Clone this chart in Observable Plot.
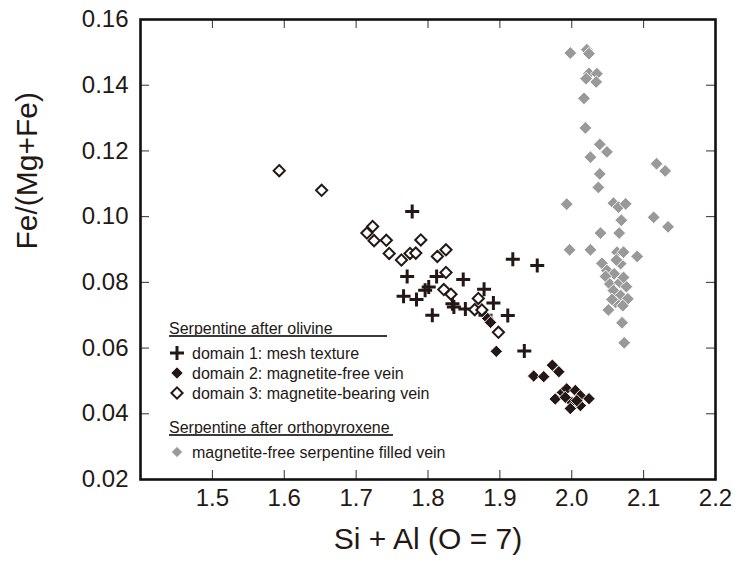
<!DOCTYPE html>
<html>
<head>
<meta charset="utf-8">
<script src="https://cdn.jsdelivr.net/npm/d3@7"></script>
<script src="https://cdn.jsdelivr.net/npm/@observablehq/plot@0.6"></script>
<style>
  html, body { margin: 0; padding: 0; background: #fff; }
  #chart { width: 740px; height: 573px; }
</style>
</head>
<body>
<div id="chart"></div>
<script>
// ---------- data ----------
// Serpentine after olivine, domain 1: mesh texture (plus)
const meshX = [1.778, 1.771, 1.766, 1.784, 1.806, 1.796, 1.801, 1.812, 1.849, 1.878,
               1.891, 1.911, 1.918, 1.952, 1.934, 1.834, 1.836, 1.852, 1.880];
const meshY = [0.1016, 0.0818, 0.0758, 0.0748, 0.0700, 0.0776, 0.0786, 0.0818, 0.0809, 0.0779,
               0.0737, 0.0699, 0.0870, 0.0851, 0.0591, 0.0735, 0.0725, 0.0719, 0.0700];

// domain 2: magnetite-free vein (filled diamond)
const freeVeinX = [1.883, 1.887, 1.895, 1.947, 1.961, 1.973, 1.982, 1.977, 1.987, 1.993,
                   2.005, 2.012, 2.000, 1.998, 2.012, 2.024, 1.991, 2.007];
const freeVeinY = [0.0690, 0.0678, 0.0590, 0.0515, 0.0513, 0.0548, 0.0528, 0.0445, 0.0465, 0.0476,
                   0.0471, 0.0455, 0.0435, 0.0416, 0.0425, 0.0446, 0.0450, 0.0440];

// domain 3: magnetite-bearing vein (open diamond)
const bearVeinX = [1.593, 1.652, 1.723, 1.715, 1.725, 1.742, 1.746, 1.763, 1.775, 1.783,
                   1.790, 1.813, 1.825, 1.825, 1.822, 1.832, 1.870, 1.865, 1.875, 1.898];
const bearVeinY = [0.1140, 0.1080, 0.0970, 0.0950, 0.0927, 0.0928, 0.0888, 0.0868, 0.0888, 0.0889,
                   0.0929, 0.0879, 0.0899, 0.0830, 0.0778, 0.0764, 0.0751, 0.0717, 0.0716, 0.0648];

// Serpentine after orthopyroxene (grey diamond)
const opxX = [1.998, 2.021, 2.024, 2.024, 2.035, 2.020, 2.034, 2.017, 2.019, 2.039,
              2.049, 2.026, 2.039, 2.118, 2.130, 2.037, 1.993, 2.058, 2.065, 2.075,
              2.069, 2.114, 2.134, 2.040, 2.066, 1.997, 2.026, 2.063, 2.072, 2.068,
              2.091, 2.042, 2.062, 2.049, 2.059, 2.047, 2.053, 2.067, 2.076, 2.058,
              2.068, 2.078, 2.061, 2.071, 2.051, 2.070, 2.073, 2.056, 2.072];
const opxY = [0.1498, 0.1508, 0.1496, 0.1436, 0.1435, 0.1420, 0.1410, 0.1360, 0.1270, 0.1220,
              0.1197, 0.1181, 0.1130, 0.1161, 0.1139, 0.1089, 0.1038, 0.1041, 0.1029, 0.1039,
              0.0989, 0.0998, 0.0969, 0.0950, 0.0950, 0.0899, 0.0899, 0.0892, 0.0892, 0.0857,
              0.0879, 0.0858, 0.0868, 0.0836, 0.0826, 0.0818, 0.0795, 0.0800, 0.0787, 0.0775,
              0.0760, 0.0750, 0.0739, 0.0729, 0.0716, 0.0677, 0.0616, 0.0748, 0.0815];

// axes
const xDomain = [1.4, 2.2];
const yDomain = [0.02, 0.16];
const xTicks = [1.5, 1.6, 1.7, 1.8, 1.9, 2.0, 2.1, 2.2];
const yTicks = [0.02, 0.04, 0.06, 0.08, 0.10, 0.12, 0.14, 0.16];
const xLabel = "Si + Al (O = 7)";
const yLabel = "Fe/(Mg+Fe)";

// legend text
const legendHead1 = "Serpentine after olivine";
const legendItems1 = ["domain 1: mesh texture", "domain 2: magnetite-free vein", "domain 3: magnetite-bearing vein"];
const legendHead2 = "Serpentine after orthopyroxene";
const legendItems2 = ["magnetite-free serpentine filled vein"];

// ---------- styling ----------
const W = 740, H = 573;
const mL = 140, mR = 25, mT = 19, mB = 94;
const plotW = W - mL - mR, plotH = H - mT - mB;
const dark = "#231815";
const grey = "#999999";
const font = "'Liberation Sans', Arial, Helvetica, sans-serif";

// symbols whose size argument maps to half-extent r (size = PI r^2)
const plusSym = {draw(ctx, size) {
  const r = Math.sqrt(size / Math.PI);
  ctx.moveTo(-r, 0); ctx.lineTo(r, 0); ctx.moveTo(0, -r); ctx.lineTo(0, r);
}};
const diamondSym = {draw(ctx, size) {
  const r = Math.sqrt(size / Math.PI);
  ctx.moveTo(0, -r); ctx.lineTo(r, 0); ctx.lineTo(0, r); ctx.lineTo(-r, 0); ctx.closePath();
}};

const styles = {
  mesh:  {symbol: plusSym, r: 7, fill: "none", stroke: dark, strokeWidth: 3},
  free:  {symbol: diamondSym, r: 6.2, fill: dark, stroke: "#fff", strokeWidth: 0.9},
  bear:  {symbol: diamondSym, r: 5.6, fill: "#fff", stroke: dark, strokeWidth: 2},
  opx:   {symbol: diamondSym, r: 6.4, fill: grey, stroke: "#fff", strokeWidth: 0.9}
};

const rows = (xs, ys) => xs.map((x, i) => ({x, y: ys[i]}));

const innerX = xTicks.filter(v => v > xDomain[0] && v < xDomain[1]);
const innerY = yTicks.filter(v => v > yDomain[0] && v < yDomain[1]);

// legend render function (pixel layout inside the frame)
function legendMark(index, scales, values, dims) {
  const g = d3.create("svg:g")
    .attr("font-family", font)
    .attr("font-size", 16)
    .attr("text-anchor", "start")
    .attr("fill", dark);
  const x0 = dims.marginLeft + 29;     // left of headings
  const sx = dims.marginLeft + 37;     // symbol centre
  const tx = dims.marginLeft + 52;     // item text
  const top = dims.marginTop;
  const drawSym = (st, cx, cy) => {
    g.append("path")
      .attr("d", d3.symbol(st.symbol, Math.PI * st.r * st.r)())
      .attr("transform", `translate(${cx},${cy})`)
      .attr("fill", st.fill).attr("stroke", st.stroke).attr("stroke-width", st.strokeWidth);
  };
  const head = (label, baseline, lineEnd) => {
    g.append("text").attr("x", x0).attr("y", baseline).attr("text-anchor", "start").text(label);
    g.append("line").attr("x1", x0).attr("x2", lineEnd).attr("y1", baseline + 2.5).attr("y2", baseline + 2.5)
      .attr("stroke", "#3a3a3a").attr("stroke-width", 1.8);
  };
  const item = (st, label, cy) => {
    drawSym(st, sx, cy);
    g.append("text").attr("x", tx).attr("y", cy + 5.6).attr("text-anchor", "start").text(label);
  };
  head(legendHead1, top + 314.5, dims.marginLeft + 247);
  [styles.mesh, styles.free, styles.bear].forEach((st, i) => item(st, legendItems1[i], top + 334 + i * 20));
  head(legendHead2, top + 413.5, dims.marginLeft + 253);
  item({...styles.opx, r: 5.6}, legendItems2[0], top + 433);
  return g.node();
}

const chart = Plot.plot({
  width: W, height: H,
  marginLeft: mL, marginRight: mR, marginTop: mT, marginBottom: mB,
  style: {fontFamily: font, background: "#fff", color: dark, overflow: "visible"},
  x: {domain: xDomain},
  y: {domain: yDomain},
  marks: [
    Plot.dot(rows(opxX, opxY), {x: "x", y: "y", ...styles.opx}),
    Plot.dot(rows(meshX, meshY), {x: "x", y: "y", ...styles.mesh}),
    Plot.dot(rows(freeVeinX, freeVeinY), {x: "x", y: "y", ...styles.free}),
    Plot.dot(rows(bearVeinX, bearVeinY), {x: "x", y: "y", ...styles.bear}),
    // inward ticks on all four sides
    Plot.tickX(innerX, {x: d => d, insetTop: plotH - 9, stroke: "#3b2b2b", strokeWidth: 1}),
    Plot.tickX(innerX, {x: d => d, insetBottom: plotH - 9, stroke: "#3b2b2b", strokeWidth: 1}),
    Plot.tickY(innerY, {y: d => d, insetRight: plotW - 9, stroke: "#3b2b2b", strokeWidth: 1}),
    Plot.tickY(innerY, {y: d => d, insetLeft: plotW - 9, stroke: "#3b2b2b", strokeWidth: 1}),
    Plot.axisX({ticks: xTicks, anchor: "bottom", tickSize: 0, tickPadding: 9,
                tickFormat: d3.format(".1f"), fontSize: 24, label: null}),
    Plot.axisY({ticks: yTicks, anchor: "left", tickSize: 0, tickPadding: 12,
                tickFormat: d3.format(".2f"), fontSize: 24, label: null}),
    Plot.frame({stroke: "#111", strokeWidth: 2.6}),
    Plot.text([xLabel], {frameAnchor: "bottom", dy: 69, fontSize: 30, fill: dark}),
    Plot.text([yLabel], {frameAnchor: "left", dx: -113, rotate: -90, fontSize: 30, fill: dark}),
    legendMark
  ]
});

document.getElementById("chart").appendChild(chart);
</script>
</body>
</html>
